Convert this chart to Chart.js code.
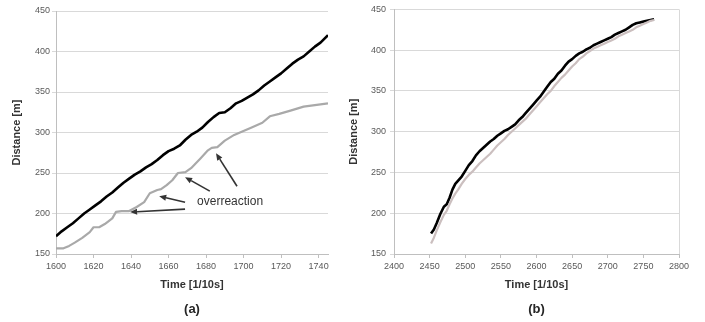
<!DOCTYPE html>
<html>
<head>
<meta charset="utf-8">
<script src="https://cdn.jsdelivr.net/npm/chart.js@4.4.1/dist/chart.umd.min.js"></script>
<style>
    html, body { margin: 0; padding: 0; background: #fff; }
    .stage { position: relative; width: 705px; height: 322px; overflow: hidden; }
    .panel { position: absolute; top: 0; height: 322px; }
    #panelA { left: 0; width: 345px; }
    #panelB { left: 345px; width: 360px; }
</style>
</head>
<body>
<div class="stage">
    <div class="panel" id="panelA"><canvas id="chartA"></canvas></div>
    <div class="panel" id="panelB"><canvas id="chartB"></canvas></div>
</div>
<script>
// (a) steady following vs. overreaction
const timeBlackA = [1600, 1603, 1606, 1609, 1612, 1615, 1618, 1621, 1624, 1627, 1630, 1633, 1636, 1639, 1642, 1645,
    1648, 1651, 1654, 1657, 1660, 1663, 1666, 1669, 1672, 1675, 1678, 1681, 1684, 1687, 1690, 1693, 1696, 1699,
    1702, 1705, 1708, 1711, 1714, 1717, 1720, 1723, 1726, 1729, 1732, 1735, 1738, 1741, 1745];
const distBlackA = [172, 178, 183, 188, 194, 200, 205, 210, 215, 221, 226, 232, 238, 243, 248, 252,
    257, 261, 266, 272, 277, 280, 284, 291, 297, 301, 306, 313, 319, 324, 325, 330, 336, 339,
    343, 347, 352, 358, 363, 368, 373, 379, 385, 390, 394, 400, 406, 411, 420];

const timeGrayA = [1600, 1604, 1607, 1610, 1614, 1618, 1620, 1623, 1626, 1630, 1632, 1635, 1639, 1643, 1647, 1650,
    1654, 1656, 1659, 1662, 1665, 1669, 1672, 1677, 1681, 1683, 1686, 1690, 1695, 1699, 1704, 1710, 1714, 1719,
    1725, 1732, 1739, 1745];
const distGrayA = [157, 157, 160, 164, 170, 177, 183, 183, 187, 194, 202, 203, 203, 208, 214, 225,
    229, 230, 235, 241, 250, 251, 256, 268, 278, 281, 282, 290, 297, 301, 306, 312, 320, 323,
    327, 332, 334, 336];

// (b) no overreaction
const timeB = [2452, 2456, 2460, 2465, 2470, 2474, 2478, 2482, 2486, 2490, 2495, 2500, 2505, 2510, 2515, 2520,
    2525, 2530, 2535, 2540, 2545, 2550, 2555, 2560, 2565, 2570, 2575, 2580, 2585, 2590, 2595, 2600, 2605, 2610,
    2615, 2620, 2625, 2630, 2635, 2640, 2645, 2650, 2655, 2660, 2665, 2670, 2675, 2680, 2685, 2690, 2695, 2700,
    2705, 2710, 2715, 2720, 2725, 2730, 2735, 2740, 2745, 2750, 2755, 2760, 2765];
const distBlackB = [175, 180, 188, 199, 208, 211, 219, 229, 236, 240, 245, 252, 259, 264, 271, 276,
    280, 284, 288, 291, 295, 298, 301, 303, 306, 309, 314, 318, 323, 328, 333, 338, 343, 349,
    355, 361, 365, 371, 375, 381, 386, 389, 393, 396, 398, 401, 403, 406, 408, 410, 412, 414,
    416, 419, 421, 423, 425, 428, 431, 433, 434, 435, 436, 437, 438];
const distGrayB = [163, 170, 179, 189, 198, 203, 211, 218, 224, 229, 236, 242, 247, 251, 256, 261,
    265, 269, 273, 278, 283, 287, 291, 296, 300, 304, 308, 312, 316, 321, 326, 331, 336, 341,
    346, 350, 356, 361, 366, 370, 375, 380, 384, 389, 392, 396, 399, 402, 404, 406, 408, 410,
    412, 414, 417, 419, 421, 423, 425, 428, 430, 432, 434, 436, 437];

const distanceTicks = [150, 200, 250, 300, 350, 400, 450];
const timeTicksA = [1600, 1620, 1640, 1660, 1680, 1700, 1720, 1740];
const timeTicksB = [2400, 2450, 2500, 2550, 2600, 2650, 2700, 2750, 2800];

// arrows in data units: [tailTime, tailDist, headTime, headDist]
const overreactionArrows = [
    [1668.8, 205.4, 1639.5, 201.7],
    [1668.8, 214.0, 1655.0, 221.4],
    [1682.0, 227.6, 1668.8, 244.8],
    [1696.5, 233.7, 1685.3, 274.4],
];
const overreactionLabel = { text: 'overreaction', time: 1692.8, dist: 214 };

const FONT = "'Liberation Sans', Arial, sans-serif";

function toPoints(xs, ys) {
    return xs.map((x, i) => ({ x, y: ys[i] }));
}

const panelLetter = {
    id: 'panelLetter',
    afterDraw(chart, args, opts) {
        const { ctx, chartArea } = chart;
        ctx.save();
        ctx.font = `bold 13px ${FONT}`;
        ctx.fillStyle = '#262626';
        ctx.textAlign = 'center';
        ctx.textBaseline = 'middle';
        ctx.fillText(opts.text, (chartArea.left + chartArea.right) / 2, 309);
        ctx.restore();
    },
};

const arrowNotes = {
    id: 'arrowNotes',
    afterDatasetsDraw(chart, args, opts) {
        if (!opts.arrows) {
            return;
        }
        const { ctx, scales } = chart;
        ctx.save();
        ctx.strokeStyle = '#333';
        ctx.fillStyle = '#333';
        ctx.lineWidth = 1.6;
        opts.arrows.forEach(([t0, d0, t1, d1]) => {
            const x0 = scales.x.getPixelForValue(t0);
            const y0 = scales.y.getPixelForValue(d0);
            const x1 = scales.x.getPixelForValue(t1);
            const y1 = scales.y.getPixelForValue(d1);
            const ang = Math.atan2(y1 - y0, x1 - x0);
            const len = 7;
            const bx = x1 - len * Math.cos(ang);
            const by = y1 - len * Math.sin(ang);
            ctx.beginPath();
            ctx.moveTo(x0, y0);
            ctx.lineTo(bx, by);
            ctx.stroke();
            ctx.beginPath();
            ctx.moveTo(x1, y1);
            ctx.lineTo(bx + 3 * Math.sin(ang), by - 3 * Math.cos(ang));
            ctx.lineTo(bx - 3 * Math.sin(ang), by + 3 * Math.cos(ang));
            ctx.closePath();
            ctx.fill();
        });
        const lbl = opts.label;
        ctx.font = `12px ${FONT}`;
        ctx.textAlign = 'center';
        ctx.textBaseline = 'middle';
        ctx.fillText(lbl.text, scales.x.getPixelForValue(lbl.time), scales.y.getPixelForValue(lbl.dist));
        ctx.restore();
    },
};

function buildChart(canvasId, cfg) {
    const lockTicks = (values) => (scale) => {
        scale.ticks = values.map((value) => ({ value }));
    };

    return new Chart(document.getElementById(canvasId), {
        type: 'line',
        data: {
            datasets: [
                {
                    data: cfg.gray,
                    borderColor: cfg.grayColor,
                    borderWidth: 2.2,
                    pointRadius: 0,
                    tension: 0,
                    borderJoinStyle: 'round',
                },
                {
                    data: cfg.black,
                    borderColor: '#000',
                    borderWidth: 2.6,
                    pointRadius: 0,
                    tension: 0,
                    borderJoinStyle: 'round',
                },
            ],
        },
        options: {
            responsive: true,
            maintainAspectRatio: false,
            animation: false,
            events: [],
            layout: { padding: { top: cfg.top, right: cfg.right, bottom: 30, left: 0 } },
            plugins: {
                legend: { display: false },
                tooltip: { enabled: false },
                panelLetter: { text: cfg.letter },
                arrowNotes: cfg.notes || {},
            },
            scales: {
                x: {
                    type: 'linear',
                    min: cfg.xMin,
                    max: cfg.xMax,
                    afterBuildTicks: lockTicks(cfg.xTicks),
                    afterFit: (scale) => { scale.height = 38; },
                    border: { color: '#bfbfbf' },
                    grid: {
                        drawOnChartArea: cfg.rightBorder,
                        color: (c) => (c.tick && c.tick.value === cfg.xMax ? '#d9d9d9' : 'rgba(0,0,0,0)'),
                        tickColor: '#bfbfbf',
                        tickLength: 4,
                    },
                    ticks: {
                        autoSkip: false,
                        maxRotation: 0,
                        padding: 3,
                        color: '#595959',
                        font: { family: FONT, size: 9 },
                        callback: (value) => String(value),
                    },
                    title: {
                        display: true,
                        text: 'Time [1/10s]',
                        color: '#333',
                        font: { family: FONT, size: 11, weight: 'bold' },
                        padding: { top: 0, bottom: 0 },
                    },
                },
                y: {
                    min: 150,
                    max: 450,
                    afterBuildTicks: lockTicks(distanceTicks),
                    afterFit: (scale) => { scale.width = cfg.yWidth; },
                    border: { color: '#bfbfbf' },
                    grid: { color: '#d9d9d9', tickLength: 4 },
                    ticks: {
                        padding: cfg.yPad,
                        color: '#595959',
                        font: { family: FONT, size: 9 },
                        callback: (value) => String(value),
                    },
                    title: {
                        display: true,
                        text: 'Distance [m]',
                        color: '#333',
                        font: { family: FONT, size: 11, weight: 'bold' },
                        padding: { top: cfg.yTitlePad, bottom: 0 },
                    },
                },
            },
        },
        plugins: [panelLetter, arrowNotes],
    });
}

buildChart('chartA', {
    black: toPoints(timeBlackA, distBlackA),
    gray: toPoints(timeGrayA, distGrayA),
    grayColor: '#a9a9a9',
    xMin: 1600,
    xMax: 1745,
    xTicks: timeTicksA,
    top: 11,
    right: 17,
    yWidth: 56,
    yPad: 2,
    yTitlePad: 10,
    rightBorder: false,
    letter: '(a)',
    notes: { arrows: overreactionArrows, label: overreactionLabel },
});

buildChart('chartB', {
    black: toPoints(timeB, distBlackB),
    gray: toPoints(timeB, distGrayB),
    grayColor: '#cbbfbf',
    xMin: 2400,
    xMax: 2800,
    xTicks: timeTicksB,
    top: 9,
    right: 26,
    yWidth: 49,
    yPad: 4,
    yTitlePad: 2,
    rightBorder: true,
    letter: '(b)',
});
</script>
</body>
</html>
